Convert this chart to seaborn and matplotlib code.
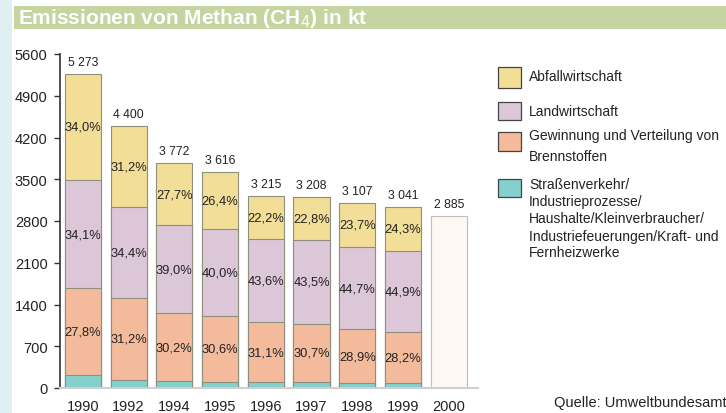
import numpy as np
import pandas as pd
import seaborn as sns
import matplotlib.pyplot as plt
from matplotlib.patches import Rectangle

# Daten
years = ["1990", "1992", "1994", "1995", "1996", "1997", "1998", "1999", "2000"]
totals = [5273, 4400, 3772, 3616, 3215, 3208, 3107, 3041, 2885]
pct_abfall = [34.0, 31.2, 27.7, 26.4, 22.2, 22.8, 23.7, 24.3]
pct_land = [34.1, 34.4, 39.0, 40.0, 43.6, 43.5, 44.7, 44.9]
pct_gewinnung = [27.8, 31.2, 30.2, 30.6, 31.1, 30.7, 28.9, 28.2]
pct_sonstige = [4.1, 3.2, 3.1, 3.0, 3.1, 3.0, 2.7, 2.6]
yticks = [0, 700, 1400, 2100, 2800, 3500, 4200, 4900, 5600]

legend_labels = [
    ["Abfallwirtschaft"],
    ["Landwirtschaft"],
    ["Gewinnung und Verteilung von", "Brennstoffen"],
    ["Straßenverkehr/", "Industrieprozesse/", "Haushalte/Kleinverbraucher/",
     "Industriefeuerungen/Kraft- und", "Fernheizwerke"],
]
colors = ["#f3de98", "#dcc7d9", "#f3bb9c", "#84d0cd"]

sns.set_theme(style="white")
plt.rcParams["font.family"] = ["Liberation Sans", "DejaVu Sans"]

# Segmente in kt
n = len(pct_abfall)
tot = np.array(totals[:n], dtype=float)
seg_sonst = tot * np.array(pct_sonstige) / 100
seg_gew = tot * np.array(pct_gewinnung) / 100
seg_land = tot * np.array(pct_land) / 100
cum1 = seg_sonst
cum2 = cum1 + seg_gew
cum3 = cum2 + seg_land
cum4 = tot

df = pd.DataFrame({"jahr": years[:n], "c1": cum1, "c2": cum2, "c3": cum3, "c4": cum4})
df2000 = pd.DataFrame({"jahr": [years[-1]], "wert": [totals[-1]]})

fig = plt.figure(figsize=(7.26, 4.14), dpi=100)
fig.patch.set_facecolor("white")

# hellblauer Rand links
fig.patches.append(Rectangle((0, 0), 12 / 726, 1, transform=fig.transFigure,
                             facecolor="#dff0f3", edgecolor="none", zorder=0))
# Titelbalken
fig.patches.append(Rectangle((14 / 726, (414 - 30) / 414), 1, 23 / 414,
                             transform=fig.transFigure, facecolor="#c5d4a0",
                             edgecolor="none", zorder=0))
fig.text(18 / 726, (414 - 19) / 414, "Emissionen von Methan (CH$_4$) in kt",
         color="white", fontsize=15, fontweight="bold", va="center", ha="left")

ax = fig.add_axes([60 / 726, 25 / 414, (478 - 60) / 726, (389 - 55) / 414])

bw = 0.79
for col, c in zip(["c4", "c3", "c2", "c1"], colors):
    sns.barplot(data=df, x="jahr", y=col, order=years, color=c, saturation=1,
                width=bw, edgecolor="#8f8f80", linewidth=0.8, ax=ax)
sns.barplot(data=df2000, x="jahr", y="wert", order=years, color="#fdf8f4",
            saturation=1, width=bw, edgecolor="#bdbdbd", linewidth=0.8, ax=ax)

# Prozentbeschriftungen
def fmt(p):
    return f"{p:.1f}".replace(".", ",") + "%"

for i in range(n):
    for base, seg, p in [(cum1[i], seg_gew[i], pct_gewinnung[i]),
                         (cum2[i], seg_land[i], pct_land[i]),
                         (cum3[i], cum4[i] - cum3[i], pct_abfall[i])]:
        ax.text(i, base + seg / 2, fmt(p), ha="center", va="center",
                fontsize=9.3, color="#222222")

for i, t in enumerate(totals):
    s = f"{t:,}".replace(",", " ")
    ax.text(i, t + 100, s, ha="center", va="bottom", fontsize=8.8, color="#222222")

ax.set_xlim(-0.5, 8.64)
ax.set_ylim(0, 5600)
ax.set_yticks(yticks)
ax.set_yticklabels([str(v) for v in yticks], fontsize=10.5, color="#222222")
ax.tick_params(axis="y", left=True, length=4, width=1, color="#333333", pad=5)
ax.tick_params(axis="x", bottom=False, labelsize=10.5, labelcolor="#222222", pad=2)
ax.set_xlabel("")
ax.set_ylabel("")
for s in ["top", "right"]:
    ax.spines[s].set_visible(False)
ax.spines["left"].set_color("#333333")
ax.spines["left"].set_linewidth(1.2)
ax.spines["bottom"].set_color("#cfcfcf")
ax.spines["bottom"].set_linewidth(1.5)
ax.patch.set_alpha(0)

# Legende
lx = 498 / 726
patch_y = [(68, 89), (103, 121), (133, 152), (180, 198)]
line_y = [[77], [112], [136, 157], [185, 202, 219, 237, 253]]
for (y0, y1), ys, lines, c in zip(patch_y, line_y, legend_labels, colors):
    fig.patches.append(Rectangle((lx, (414 - y1) / 414), 23 / 726, (y1 - y0) / 414,
                                 transform=fig.transFigure, facecolor=c,
                                 edgecolor="#444444", linewidth=0.9))
    for ty, lab in zip(ys, lines):
        fig.text(529 / 726, (414 - ty) / 414, lab, fontsize=10, color="#222222",
                 va="center", ha="left")

fig.text(554 / 726, (414 - 403) / 414, "Quelle: Umweltbundesamt", fontsize=10.5,
         color="#222222", va="center", ha="left")

fig.savefig("out.png", dpi=100)
